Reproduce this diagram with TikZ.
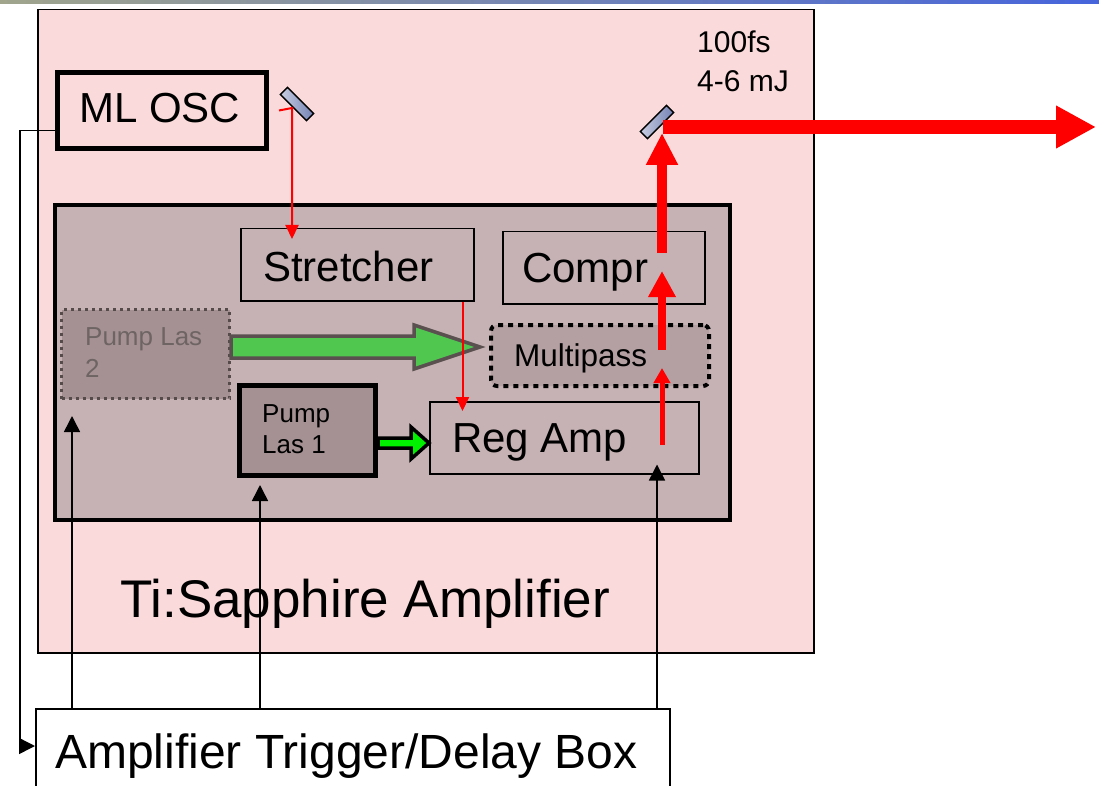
\documentclass[tikz,border=0pt]{standalone}
\usepackage{fontspec}
\setmainfont{Liberation Sans}
\usetikzlibrary{arrows.meta}
\definecolor{pinkbg}{RGB}{250,218,218}
\definecolor{innerbg}{RGB}{198,178,180}
\definecolor{pumpbg}{RGB}{165,145,147}
\definecolor{multibg}{RGB}{180,160,162}
\definecolor{beamred}{RGB}{255,0,0}
\definecolor{mirrorl}{RGB}{200,205,225}
\definecolor{mirrord}{RGB}{115,130,180}
\definecolor{greenbig}{RGB}{80,200,80}
\definecolor{greenbright}{RGB}{0,240,0}
\definecolor{arrowedge}{RGB}{90,80,80}
\definecolor{grayedge}{RGB}{85,75,75}
\definecolor{graytext}{RGB}{110,100,100}
\definecolor{topl}{RGB}{160,165,140}
\definecolor{topr}{RGB}{70,100,220}
\newcommand{\myfs}[1]{\fontsize{#1}{#1}\selectfont}
\begin{document}
\begin{tikzpicture}[x=1pt,y=-1pt,
  box/.style={draw=black, line width=1.5pt, inner sep=0pt, anchor=north west},
  heavybox/.style={draw=black, line width=5pt, inner sep=0pt, anchor=north west},
  lbl/.style={anchor=base west, inner sep=0pt},
  trigline/.style={draw=black, line width=1.5pt, -{Triangle[length=16pt,width=16pt]}},
  redthin/.style={draw=beamred, line width=2pt, -{Triangle[length=14pt,width=13pt]}},
  mirror/.style={draw=black, line width=1.5pt, left color=mirrorl, right color=mirrord, minimum width=37pt, minimum height=10pt, inner sep=0pt}]
\useasboundingbox (0,0) rectangle (1099,786);
\clip (0,0) rectangle (1099,786);
% top gradient strip
\shade[left color=topl, right color=topr] (0,0) rectangle (1099,4);
% outer box
\node[box, fill=pinkbg, minimum width=776pt, minimum height=643pt] (outer) at (37,9) {};
% ML OSC
\node[heavybox, fill=pinkbg, minimum width=209pt, minimum height=76pt] (osc) at (55,70) {};
\node[lbl, font=\myfs{42}] (osct) at (79,123) {ML OSC};
% inner amplifier box
\node[draw=black, line width=4pt, fill=innerbg, inner sep=0pt, anchor=north west, minimum width=675pt, minimum height=315pt] (inner) at (53,203) {};
% Stretcher / Compr
\node[box, minimum width=233pt, minimum height=72pt] (stretcher) at (240,228) {};
\node[lbl, font=\myfs{42}] (stretchert) at (263,281) {Stretcher};
\node[box, minimum width=202pt, minimum height=72pt] (compr) at (502,231) {};
\node[lbl, font=\myfs{42}] (comprt) at (522,282) {Compr};
% Pump Las 2
\node[draw=grayedge, line width=3pt, dash pattern=on 3pt off 4pt, fill=pumpbg, inner sep=0pt, anchor=north west, minimum width=168pt, minimum height=89pt] (pl2) at (60,308) {};
\node[lbl, font=\myfs{26}, text=graytext] (pl2a) at (85,345) {Pump Las};
\node[lbl, font=\myfs{26}, text=graytext] (pl2b) at (85,377) {2};
% Multipass
\node[draw=black, line width=4pt, dash pattern=on 5pt off 5pt, rounded corners=6pt, fill=multibg, inner sep=0pt, anchor=north west, minimum width=218pt, minimum height=61pt] (multi) at (489,323) {};
\node[lbl, font=\myfs{31.5}] (multit) at (514,366) {Multipass};
% Pump Las 1
\node[heavybox, fill=pumpbg, minimum width=136pt, minimum height=90pt] (pl1) at (237,383) {};
\node[lbl, font=\myfs{26}] (pl1a) at (262,422) {Pump};
\node[lbl, font=\myfs{26}] (pl1b) at (262,453) {Las 1};
% Reg Amp
\node[box, minimum width=269pt, minimum height=72pt] (regamp) at (429,401) {};
\node[lbl, font=\myfs{42}] (regampt) at (452,452) {Reg Amp};
% green pump arrows
\draw[draw=arrowedge, line width=3.5pt, fill=greenbig, line join=miter]
  (pl2.east |- 0,336) -- (414,336) -- (414,325) -- (480,347) -- (414,369) -- (414,358) -- (pl2.east |- 0,358) -- cycle;
\draw[draw=black, line width=3.5pt, fill=greenbright, line join=miter]
  (pl1.east |- 0,438) -- (411,438) -- (411,427) -- (regamp.west |- 0,443) -- (411,459) -- (411,448) -- (pl1.east |- 0,448) -- cycle;
% mirrors
\node[mirror, rotate=-45] (m1) at (297,104) {};
\node[mirror, rotate=45] (m2) at (657,122) {};
% thin red beam: oscillator -> mirror -> stretcher -> regen amp
\coordinate (m1foot) at (292,108);
\draw[redthin] ([xshift=10pt]osc.east) -- (m1foot) -- ([yshift=-11pt]m1foot |- stretcher.north);
\draw[redthin] ([xshift=-12pt]stretcher.south east) -- ([xshift=-12pt,yshift=-10pt]stretcher.south east |- regamp.north);
% amplified beam
\coordinate (b1s) at (662,445);
\coordinate (b1e) at (662,368);
\coordinate (b2s) at (662,350);
\coordinate (b2e) at (662,271);
\coordinate (b3s) at (662,253);
\coordinate (b3e) at (662,133);
\coordinate (outs) at (663,127);
\coordinate (oute) at (1096,127);
\draw[draw=beamred, line width=5pt, -{Triangle[length=15pt,width=16pt]}] (b1s) -- (b1e);
\draw[draw=beamred, line width=8pt, -{Triangle[length=26pt,width=26pt]}] (b2s) -- (b2e);
\draw[draw=beamred, line width=10pt, -{Triangle[length=32pt,width=30pt]}] (b3s) -- (b3e);
\draw[draw=beamred, line width=14pt, -{Triangle[length=40pt,width=40pt]}] (outs) -- (oute);
% output specs
\node[lbl, font=\myfs{30}] (spec1) at (697,53) {100fs};
\node[lbl, font=\myfs{30}] (spec2) at (697,92) {4-6 mJ};
% title
\node[lbl, font=\myfs{53}] (title) at (120,617) {Ti:Sapphire Amplifier};
% trigger box
\node[box, minimum width=634pt, minimum height=100pt] (trig) at (35,708) {};
\node[lbl, font=\myfs{48}] (trigt) at (55,768) {Amplifier Trigger/Delay Box};
% trigger lines
\draw[trigline] ([yshift=-20pt]osc.west) -| ([xshift=-15pt,yshift=-38pt]trig.north west) -- ([yshift=-38pt]trig.north west);
\draw[trigline] ([xshift=37pt]trig.north west) -- ([xshift=12pt,yshift=-16pt]pl2.south west);
\draw[trigline] ([xshift=225pt]trig.north west) -- ([xshift=23pt,yshift=-7pt]pl1.south west);
\draw[trigline] ([xshift=622pt]trig.north west) -- ([xshift=228pt,yshift=10pt]regamp.south west);
\end{tikzpicture}
\end{document}
